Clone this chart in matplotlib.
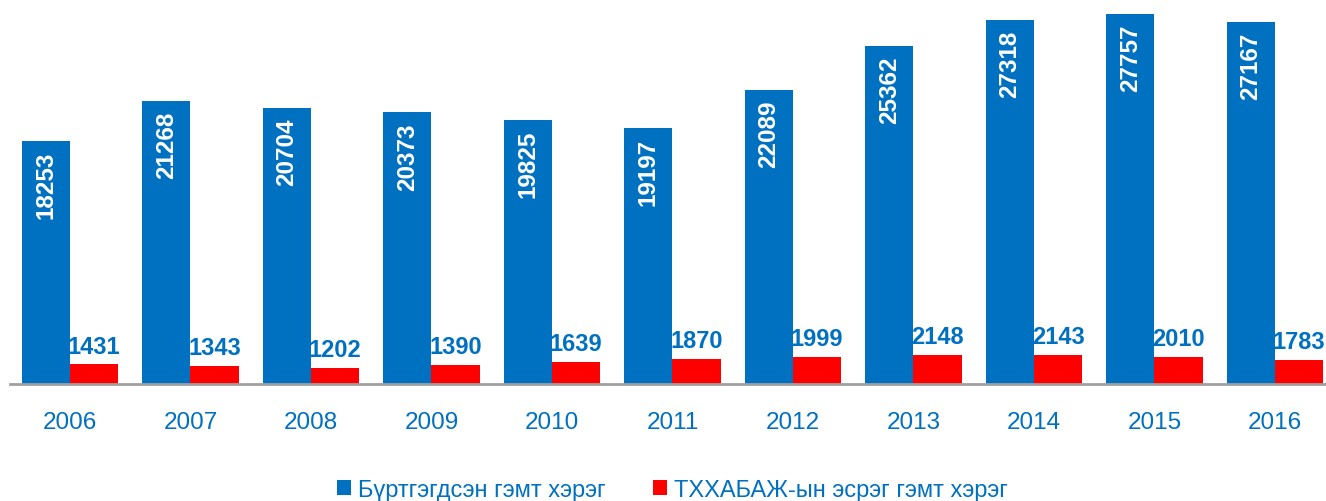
import numpy as np
import matplotlib
matplotlib.use("Agg")
import matplotlib.pyplot as plt
from matplotlib.patches import Patch

plt.rcParams['font.family'] = ['Liberation Sans', 'DejaVu Sans']

years = ["2006", "2007", "2008", "2009", "2010", "2011", "2012", "2013", "2014", "2015", "2016"]
registered = [18253, 21268, 20704, 20373, 19825, 19197, 22089, 25362, 27318, 27757, 27167]
against_env = [1431, 1343, 1202, 1390, 1639, 1870, 1999, 2148, 2143, 2010, 1783]
series_names = ["Бүртгэгдсэн гэмт хэрэг", "ТХХАБАЖ-ын эсрэг гэмт хэрэг"]

blue = "#0070C0"
red = "#FF0000"

fig = plt.figure(figsize=(13.26, 5.02), dpi=100)
ax = fig.add_axes([0.00735, 0.234, 0.9996, 0.7555])

x = np.arange(len(years))
w = 0.4
b1 = ax.bar(x - w / 2, registered, w, color=blue, zorder=2)
b2 = ax.bar(x + w / 2, against_env, w, color=red, zorder=2)

# values written inside the blue bars, rotated
for rect, v in zip(b1, registered):
    ax.annotate(str(v), (rect.get_x() + rect.get_width() / 2, rect.get_height()),
                xytext=(0, -7), textcoords="offset points", rotation=90,
                ha="center", va="top", color="white", fontsize=17.5, fontweight="bold")

for rect, v in zip(b2, against_env):
    ax.annotate(str(v), (rect.get_x() + rect.get_width() / 2, rect.get_height()),
                xytext=(0, 5), textcoords="offset points",
                ha="center", va="bottom", color=blue, fontsize=17, fontweight="bold")

ax.set_xlim(-0.5, len(years) - 0.5)
ax.set_ylim(0, 28500)
ax.set_xticks(x)
ax.set_xticklabels(years, color=blue, fontsize=17.5)
ax.tick_params(axis="x", length=0, pad=20)
ax.set_yticks([])
for s in ["top", "right", "left"]:
    ax.spines[s].set_visible(False)
ax.spines["bottom"].set_color("#A0A0A0")
ax.spines["bottom"].set_linewidth(2)
ax.spines["bottom"].set_zorder(3)

handles = [Patch(facecolor=blue), Patch(facecolor=red)]
leg = fig.legend(handles, series_names, loc="center", bbox_to_anchor=(0.507, 0.022),
                 ncol=2, frameon=False, handlelength=0.6, handleheight=0.6,
                 handletextpad=0.3, columnspacing=2.0,
                 prop={"family": ["Liberation Sans"], "size": 17})
for t in leg.get_texts():
    t.set_color(blue)

fig.savefig("out.png", dpi=100)
